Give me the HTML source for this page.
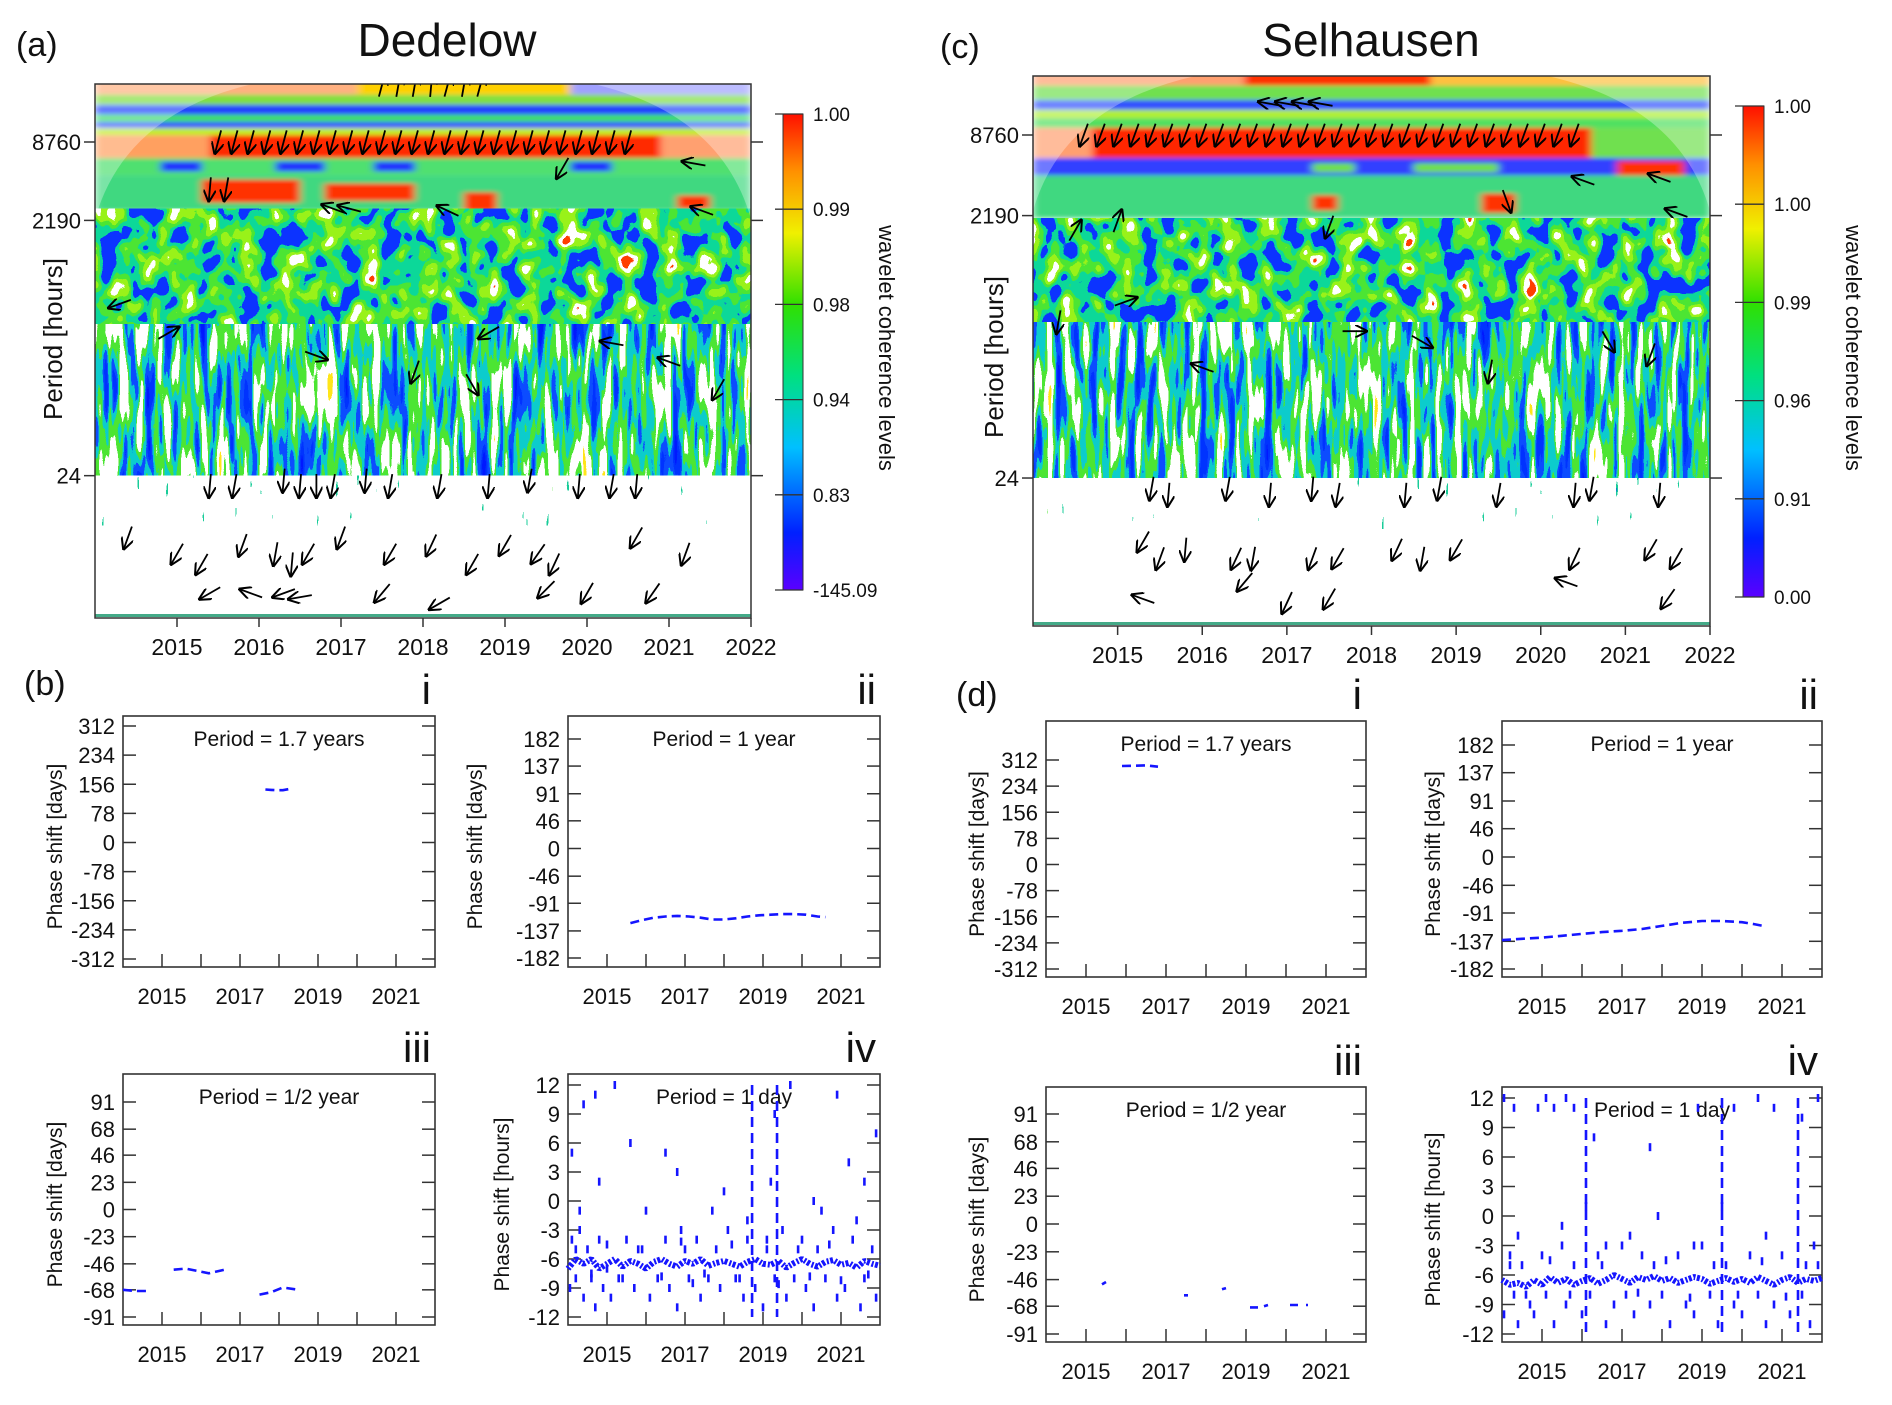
<!DOCTYPE html>
<html><head><meta charset="utf-8"><style>
html,body{margin:0;padding:0;background:#fff}
svg{display:block}
text{font-family:"Liberation Sans",Arial,sans-serif;fill:#111}
</style></head><body>
<svg id="fig" xmlns="http://www.w3.org/2000/svg" width="1892" height="1405" viewBox="0 0 1892 1405">
<defs>
 <filter id="soft" x="-5%" y="-20%" width="110%" height="140%"><feGaussianBlur stdDeviation="4 2"/></filter>
 <filter id="texA" x="0" y="0" width="1" height="1" filterUnits="objectBoundingBox" color-interpolation-filters="sRGB">
  <feTurbulence type="fractalNoise" baseFrequency="0.05 0.04" numOctaves="2" seed="4"/>
  <feColorMatrix type="matrix" values="1 0 0 0 0 1 0 0 0 0 1 0 0 0 0 0 0 0 0 1"/>
  <feComponentTransfer>
   <feFuncR type="discrete" tableValues="0.05 0.05 0.05 0.05 0.05 0.3 0.6 1 1 1"/>
   <feFuncG type="discrete" tableValues="0.2 0.2 0.2 0.2 0.85 0.9 0.95 1 0.25 0.2"/>
   <feFuncB type="discrete" tableValues="1 1 1 1 0.6 0.2 0.1 1 0 0"/>
  </feComponentTransfer>
 </filter>
 <filter id="texB" x="0" y="0" width="1" height="1" filterUnits="objectBoundingBox" color-interpolation-filters="sRGB">
  <feTurbulence type="fractalNoise" baseFrequency="0.11 0.014" numOctaves="2" seed="9"/>
  <feColorMatrix type="matrix" values="1 0 0 0 0 1 0 0 0 0 1 0 0 0 0 0 0 0 0 1"/>
  <feComponentTransfer>
   <feFuncR type="discrete" tableValues="0 0 0 0.05 0.05 0.3 1 1 1 1"/>
   <feFuncG type="discrete" tableValues="0.1 0.1 0.2 0.3 0.8 0.9 1 1 0.9 0.2"/>
   <feFuncB type="discrete" tableValues="1 1 1 1 0.8 0.2 1 1 0.1 0"/>
  </feComponentTransfer>
 </filter>
 <filter id="texC" x="0" y="0" width="1" height="1" filterUnits="objectBoundingBox" color-interpolation-filters="sRGB">
  <feTurbulence type="fractalNoise" baseFrequency="0.2 0.03" numOctaves="2" seed="2"/>
  <feColorMatrix type="matrix" values="1 0 0 0 0 1 0 0 0 0 1 0 0 0 0 0 0 0 0 1"/>
  <feComponentTransfer>
   <feFuncR type="discrete" tableValues="0 0.1 1 1 1 1 1 1 1 0.3"/>
   <feFuncG type="discrete" tableValues="0.2 0.8 1 1 1 1 1 1 1 0.9"/>
   <feFuncB type="discrete" tableValues="1 0.6 1 1 1 1 1 1 1 0.2"/>
  </feComponentTransfer>
 </filter>
 <linearGradient id="cbL" x1="0" y1="1" x2="0" y2="0">
  <stop offset="0" stop-color="#5a00ff"/><stop offset="0.12" stop-color="#0020ff"/>
  <stop offset="0.3" stop-color="#00c0ff"/><stop offset="0.45" stop-color="#00e080"/>
  <stop offset="0.6" stop-color="#30e000"/><stop offset="0.75" stop-color="#f0f000"/>
  <stop offset="0.88" stop-color="#ff9000"/><stop offset="1" stop-color="#ff1000"/>
 </linearGradient>
 <marker id="ah" viewBox="0 0 10 10" refX="9" refY="5" markerWidth="7" markerHeight="7" orient="auto"><path d="M0,0 L10,5 L0,10" fill="none" stroke="#000" stroke-width="1.6"/></marker>
 <clipPath id="clipA"><rect x="95" y="84" width="656" height="534"/></clipPath>
 <clipPath id="clipC"><rect x="1033" y="76" width="677" height="550"/></clipPath>
</defs>

<text x="16" y="56" font-size="34">(a)</text>
<text x="447" y="56" font-size="46" text-anchor="middle">Dedelow</text>
<text x="940" y="58" font-size="34">(c)</text>
<text x="1371" y="56" font-size="46" text-anchor="middle">Selhausen</text>
<text x="24" y="695" font-size="34">(b)</text>
<text x="956" y="706" font-size="34">(d)</text>
<text transform="translate(62,339) rotate(-90)" font-size="26" text-anchor="middle">Period [hours]</text>
<text transform="translate(1003,357) rotate(-90)" font-size="26" text-anchor="middle">Period [hours]</text>
<text transform="translate(879,348) rotate(90)" font-size="22" text-anchor="middle">wavelet coherence levels</text>
<text transform="translate(1846,348) rotate(90)" font-size="22" text-anchor="middle">wavelet coherence levels</text>
</svg>
<script>
const NS='http://www.w3.org/2000/svg';
const svg=document.getElementById('fig');
function mk(tag,attrs,parent){const e=document.createElementNS(NS,tag);for(const k in attrs)e.setAttribute(k,attrs[k]);(parent||svg).appendChild(e);return e;}

/* ---------- data ---------- */
const yearTicks=[2015,2016,2017,2018,2019,2020,2021,2022];
const periodTicks=[8760,2190,24];
const cbLabelsA=['1.00','0.99','0.98','0.94','0.83','-145.09'];
const cbLabelsC=['1.00','1.00','0.99','0.96','0.91','0.00'];
// heatmap bands: [periodHigh, periodLow, yearStart, yearEnd, colour]
const dedBands=[[40000,20200,2014,2017.2,'#ffb080'],[40000,20200,2017.2,2019.8,'#ffd000'],[40000,20200,2019.8,2022,'#a0a0ff'],
 [20200,16900,2014,2022,'#80e040'],[16900,14200,2014,2022,'#2040ff'],[14200,12500,2014,2022,'#40e060'],[12500,11200,2014,2022,'#3050ff'],
 [11200,9900,2014,2022,'#c0f020'],[9900,6600,2014,2015.4,'#ffa060'],[9900,6600,2015.4,2020.9,'#ff2a00'],[9900,6600,2020.9,2022,'#ffa070'],
 [6600,4870,2014,2022,'#50e070'],[6200,5200,2014.8,2015.3,'#2030ff'],[6200,5200,2016.2,2016.8,'#2030ff'],[6200,5200,2017.4,2017.9,'#2030ff'],[6200,5200,2019.8,2020.3,'#2030ff'],
 [4870,2600,2014,2022,'#40d880'],[4500,3000,2015.3,2016.5,'#ff3000'],[4200,3100,2016.8,2017.9,'#ff3000'],[3600,2600,2018.5,2018.9,'#ff3000'],[3400,2700,2021.1,2021.5,'#ff3000']];
const selBands=[[40000,20500,2014,2016.5,'#ffa070'],[40000,20500,2016.5,2018.7,'#ff3000'],[40000,20500,2018.7,2022,'#ffc040'],
 [20500,16000,2014,2022,'#70e050'],[16000,13500,2014,2022,'#3050ff'],[13500,11700,2014,2022,'#b0f030'],[11700,9900,2014,2022,'#50e060'],
 [9900,5900,2014,2014.7,'#ffa070'],[9900,5900,2014.7,2020.6,'#ff2800'],[9900,5900,2020.6,2022,'#70e050'],
 [5900,4380,2014,2022,'#3040ff'],[5600,4200,2020.9,2021.7,'#ff3000'],[5400,4600,2017.3,2017.8,'#70e050'],[5400,4600,2018.5,2019.5,'#70e050'],
 [4380,2100,2014,2022,'#40d880'],[3200,2300,2019.3,2019.7,'#ff3000'],[3100,2400,2017.3,2017.6,'#ff3000']];
// arrows: years, periods, angles (deg, svg clockwise from +x)
const dedArrowYears=[2015.5,2015.7,2015.9,2016.1,2016.3,2016.5,2016.7,2016.9,2017.1,2017.3,2017.5,2017.7,2017.9,2018.1,2018.3,2018.5,2018.7,2018.9,2019.1,2019.3,2019.5,2019.7,2019.9,2020.1,2020.3,2020.5,
 2017.5,2017.7,2017.9,2018.1,2018.3,2018.5,2018.7,
 2015.4,2015.6,2016.9,2017.1,2018.3,2019.7,2021.3,2021.4,
 2014.3,2014.9,2016.7,2017.9,2018.6,2018.8,2020.3,2021.0,2021.6,
 2015.4,2015.7,2016.3,2016.5,2016.7,2016.9,2017.3,2017.6,2018.2,2018.8,2019.3,2019.9,2020.3,2020.6,
 2014.4,2015.0,2015.3,2015.8,2016.2,2016.4,2016.6,2017.0,2017.6,2018.1,2018.6,2019.0,2019.4,2019.6,2020.6,2021.2,
 2015.4,2015.9,2016.3,2016.5,2017.5,2018.2,2019.5,2020.0,2020.8];
const dedArrowPeriods=[8760,8760,8760,8760,8760,8760,8760,8760,8760,8760,8760,8760,8760,8760,8760,8760,8760,8760,8760,8760,8760,8760,8760,8760,8760,8760,
 24000,24000,24000,24000,24000,24000,24000,
 3800,3800,2700,2700,2600,5500,6000,2600,
 500,300,200,150,120,300,250,180,110,
 20,20,22,20,20,20,22,20,20,20,22,20,20,20,
 8,6,5,7,6,5,6,8,6,7,5,7,6,5,8,6,
 3,3,3,2.8,3,2.5,3.2,3,3];
const dedArrowAngles=[105,105,105,105,105,105,105,105,105,105,105,105,105,105,105,105,105,105,105,105,105,105,105,105,105,105,
 -75,-80,-80,-85,-75,-80,-75,
 95,100,200,195,205,120,190,200,
 160,-30,20,110,60,150,190,200,120,
 95,100,95,95,90,100,95,100,100,95,100,95,100,95,
 110,120,120,110,100,95,120,110,120,115,120,120,125,115,120,110,
 150,200,160,170,130,150,135,120,125];
const selArrowYears=[2014.6,2014.8,2015.0,2015.2,2015.4,2015.6,2015.8,2016.0,2016.2,2016.4,2016.6,2016.8,2017.0,2017.2,2017.4,2017.6,2017.8,2018.0,2018.2,2018.4,2018.6,2018.8,2019.0,2019.2,2019.4,2019.6,2019.8,2020.0,2020.2,2020.4,
 2016.8,2017.0,2017.2,2017.4,
 2014.5,2015.0,2017.5,2019.6,2020.5,2021.4,2021.6,
 2014.3,2015.1,2016.0,2017.8,2018.6,2019.4,2020.8,2021.3,
 2015.4,2015.6,2016.3,2016.8,2017.3,2017.6,2018.4,2018.8,2019.5,2020.4,2020.6,2021.4,
 2015.3,2015.5,2015.8,2016.4,2016.6,2017.3,2017.6,2018.3,2018.6,2019.0,2020.4,2021.3,2021.6,
 2015.3,2016.5,2017.0,2017.5,2020.3,2021.5];
const selArrowPeriods=[8760,8760,8760,8760,8760,8760,8760,8760,8760,8760,8760,8760,8760,8760,8760,8760,8760,8760,8760,8760,8760,8760,8760,8760,8760,8760,8760,8760,8760,8760,
 15000,15000,15000,15000,
 1700,2000,1800,2800,4000,4200,2300,
 350,500,160,300,250,150,250,200,
 20,18,20,18,20,18,18,20,18,18,20,18,
 8,6,7,6,6,6,6,7,6,7,6,7,6,
 3,4,2.8,3,4,3];
const selArrowAngles=[110,110,110,110,110,110,110,110,110,110,110,110,110,110,110,110,110,110,110,110,110,110,110,110,110,110,110,110,110,110,
 190,190,190,190,
 -60,-70,110,70,200,200,200,
 100,-20,200,0,30,100,60,110,
 100,95,100,95,95,100,95,100,100,95,100,95,
 120,110,95,115,100,110,120,115,100,120,115,120,120,
 200,130,115,120,200,125];
// phase shift panels
const dedIx=[2017.65,2017.8,2017.95,2018.1,2018.25];
const dedIy=[142,141,140,140,143];
const dedIIx=[2015.6,2015.9,2016.2,2016.5,2016.8,2017.1,2017.4,2017.7,2018.0,2018.3,2018.6,2018.9,2019.2,2019.5,2019.8,2020.1,2020.4,2020.6];
const dedIIy=[-124,-119,-115,-113,-112,-113,-115,-118,-118,-116,-113,-111,-110,-109,-109,-110,-113,-114];
const dedIIIx=[2014.0,2014.3,2014.6,null,2015.3,2015.6,2015.9,2016.2,2016.6,null,2017.5,2017.8,2018.1,2018.5];
const dedIIIy=[-68,-69,-69,null,-51,-50,-52,-54,-51,null,-72,-70,-66,-68];
const selIx=[2015.9,2016.2,2016.5,2016.8];
const selIy=[294,295,296,292];
const selIIx=[2014.0,2014.5,2015.0,2015.5,2016.0,2016.5,2017.0,2017.5,2018.0,2018.5,2019.0,2019.5,2020.0,2020.3,2020.6];
const selIIy=[-135,-133,-131,-128,-125,-122,-120,-117,-112,-107,-104,-104,-106,-109,-113];
const selIIIx=[2015.4,2015.5,null,2017.45,2017.55,null,2018.4,2018.5,null,2019.1,2019.3,null,2019.45,2019.55,null,2020.1,2020.3,null,2020.5,2020.55];
const selIIIy=[-50,-48,null,-59,-59,null,-54,-53,null,-69,-69,null,-68,-67,null,-67,-67,null,-67,-67];
const ivBandX=[2014.0,2014.2,2014.4,2014.6,2014.8,2015.0,2015.2,2015.4,2015.6,2015.8,2016.0,2016.2,2016.4,2016.6,2016.8,2017.0,2017.2,2017.4,2017.6,2017.8,2018.0,2018.2,2018.4,2018.6,2018.8,2019.0,2019.2,2019.4,2019.6,2019.8,2020.0,2020.2,2020.4,2020.6,2020.8,2021.0,2021.2,2021.4,2021.6,2021.8,2022.0];
const dedIVband=[-7,-6,-6.5,-6,-7,-6.5,-6,-6.8,-6.2,-6.5,-7,-6.3,-6,-6.5,-6.8,-6.2,-6.5,-6,-6.7,-6.4,-6.2,-6.5,-6.8,-6.3,-6,-6.5,-6.6,-6.2,-6.9,-6.4,-6,-6.5,-6.8,-6.3,-6.1,-6.6,-6.4,-6.9,-6.2,-6.5,-6.7];
const selIVband=[-6.5,-7,-6.8,-7.2,-6.5,-7,-6.2,-6.8,-6.4,-7,-6.6,-6.3,-6.9,-6.5,-6,-6.4,-6.8,-6.2,-6.5,-6.1,-6.6,-6.3,-6.8,-6.5,-6.2,-6.4,-6.9,-6.6,-6.3,-6.7,-6.4,-6.8,-6.2,-6.6,-7,-6.5,-6.2,-6.8,-6.4,-6.6,-6.3];
const dedIVx=[2014.05,2014.1,2014.2,2014.3,2014.4,2014.5,2014.6,2014.7,2014.8,2014.9,2015.0,2015.1,2015.3,2015.5,2015.7,2015.8,2016.0,2016.1,2016.3,2016.5,2016.6,2016.8,2017.0,2017.1,2017.3,2017.4,2017.6,2017.8,2017.9,2018.1,2018.3,2018.5,2018.6,2018.8,2019.0,2019.1,2019.3,2019.5,2019.6,2019.8,2020.0,2020.1,2020.3,2020.4,2020.6,2020.8,2020.9,2021.1,2021.3,2021.5,2021.6,2021.8,2021.9,
 2014.1,2014.4,2014.7,2015.2,2015.6,2016.5,2016.8,2019.3,2019.7,2020.5,2020.9,2021.2,2021.6,2021.9,2014.3,2014.8,2016.9,2017.7,2018.0,2018.6,2019.2,2020.3,2021.4,
 2014.2,2014.6,2015.0,2015.4,2015.9,2016.4,2016.9,2017.2,2017.5,2018.2,2018.4,2019.1,2019.4,2019.9,2020.2,2020.7,2021.0,2021.7];
const dedIVy=[-9,-4,-8,-3,-10,-5,-8,-11,-4,-9,-7,-10,-8,-4,-9,-5,-1,-10,-8,-4,-9,-11,-5,-8,-4,-10,-8,-5,-9,-3,-8,-10,-4,-9,-11,-5,-8,-3,-10,-8,-4,-9,-11,-5,-8,-3,-10,-9,-4,-11,-8,-5,-10,
 5,10,11,12,6,5,3,9,12,-1,11,4,2,7,-1,2,-3,-1,1,-2,2,0,-2,
 -5,-7.5,-4.5,-8,-5,-7.8,-4.2,-8.5,-7.5,-4.5,-8,-4,-8.6,-5,-7.8,-4.5,-8.2,-7.6];
const dedIVvert=[2018.72,2019.36];
const selIVx=[2014.05,2014.2,2014.3,2014.4,2014.5,2014.7,2014.8,2015.0,2015.1,2015.3,2015.5,2015.6,2015.8,2016.0,2016.2,2016.4,2016.6,2016.8,2017.0,2017.1,2017.3,2017.5,2017.7,2017.8,2018.0,2018.2,2018.4,2018.6,2018.8,2019.0,2019.2,2019.4,2019.6,2019.8,2020.0,2020.2,2020.4,2020.6,2020.8,2021.0,2021.2,2021.5,2021.7,2021.9,
 2014.05,2014.3,2014.9,2015.1,2015.3,2015.6,2015.8,2016.3,2017.7,2018.9,2019.8,2020.4,2020.8,2021.5,2021.9,2014.4,2015.5,2016.1,2016.6,2017.2,2017.9,2018.8,2019.5,2020.6,2021.8,
 2014.2,2014.6,2015.2,2015.7,2016.5,2017.4,2018.1,2018.7,2019.3,2019.9,2020.5,2021.1,2021.6];
const selIVy=[-10,-4,-8,-11,-5,-9,-10,-4,-8,-11,-3,-9,-5,-10,-8,-4,-11,-9,-3,-8,-10,-4,-9,-5,-8,-11,-4,-9,-10,-3,-8,-11,-5,-9,-10,-4,-8,-11,-9,-4,-10,-8,-11,-5,
 12,11,11,12,11,12,11,8,7,11,11,12,11,10,12,-2,-1,1,-3,-2,0,-3,1,-2,-3,
 -5,-8,-4.5,-8,-5,-7.8,-4.5,-8.3,-5,-8,-4.6,-8.2,-5];
const selIVvert=[2016.1,2019.5,2021.4];

/* ---------- wavelet panels ---------- */
function wavelet(c){
 const g=mk('g',{'clip-path':`url(#${c.clip})`});
 
 
 const X=y=>c.x0+(y-2014)/8*(c.x1-c.x0);
 const Y=p=>c.y8760-Math.log2(p/8760)*c.oct;
 const bg=mk('rect',{x:c.x0,y:c.y0,width:c.x1-c.x0,height:c.y1-c.y0,fill:'#fff'},g);
 
 
 const bandG=mk('g',{filter:'url(#soft)'},g);
 
 
 c.bands.forEach(b=>{
  const r=mk('rect',{x:X(b[2]),y:Y(b[0]),width:X(b[3])-X(b[2]),height:Y(b[1])-Y(b[0]),fill:b[4]},bandG);
  
  
 });
 const t1=mk('rect',{x:c.x0,y:Y(c.texTop),width:c.x1-c.x0,height:Y(350)-Y(c.texTop),filter:'url(#texA)'},g);
 
 
 const t2=mk('rect',{x:c.x0,y:Y(350),width:c.x1-c.x0,height:Y(24)-Y(350),filter:'url(#texB)'},g);
 
 
 const t3=mk('rect',{x:c.x0,y:Y(24),width:c.x1-c.x0,height:Y(10)-Y(24),filter:'url(#texC)'},g);
 
 
 const w=c.x1-c.x0;
 const cone=mk('path',{d:`M${c.x0},${c.y0} L${c.x0},${c.y0+135} Q${c.x0+30},${c.y0+30} ${c.x0+w*0.24},${c.y0} Z M${c.x1},${c.y0} L${c.x1},${c.y0+135} Q${c.x1-30},${c.y0+30} ${c.x1-w*0.24},${c.y0} Z`,fill:'#fff',opacity:0.3},g);
 
 
 const bl=mk('rect',{x:c.x0,y:c.y1-4,width:w,height:3,fill:'#4a8'},g);
 
 
 const n=Math.min(c.ay.length,c.ap.length,c.aa.length);
 for(let i=0;i<n;i++){
  const cx=X(c.ay[i]),cy=Y(c.ap[i]),a=c.aa[i]*Math.PI/180,L=12;
  const ar=mk('line',{x1:cx-Math.cos(a)*L,y1:cy-Math.sin(a)*L,x2:cx+Math.cos(a)*L,y2:cy+Math.sin(a)*L,stroke:'#000','stroke-width':1.8,'marker-end':'url(#ah)'},g);
  
  
 }
 const fr=mk('rect',{x:c.x0,y:c.y0,width:w,height:c.y1-c.y0,fill:'none',stroke:'#333','stroke-width':1.5});
 
 
 yearTicks.forEach(yr=>{
  const tk=mk('line',{x1:X(yr),x2:X(yr),y1:c.y1,y2:c.y1+9,stroke:'#333','stroke-width':1.5});
  
  
  const tl=mk('text',{x:X(yr),y:c.y1+37,'font-size':23,'text-anchor':'middle'});
  tl.textContent=yr;
  
  
 });
 periodTicks.forEach(p=>{
  const tk=mk('line',{x1:c.x0-11,x2:c.x0,y1:Y(p),y2:Y(p),stroke:'#333','stroke-width':1.5});
  
  
  const tk2=mk('line',{x1:c.x1,x2:c.x1+12,y1:Y(p),y2:Y(p),stroke:'#333','stroke-width':1.5});
  
  
  const tl=mk('text',{x:c.x0-14,y:Y(p)+8,'font-size':22,'text-anchor':'end'});
  tl.textContent=p;
  
  
 });
 const cb=mk('rect',{x:c.cbx,y:c.cby0,width:c.cbw,height:c.cby1-c.cby0,fill:'url(#cbL)',stroke:'#333','stroke-width':1});
 
 
 c.cbl.forEach((lab,i)=>{
  const yy=c.cby0+i*(c.cby1-c.cby0)/(c.cbl.length-1);
  const tk=mk('line',{x1:c.cbx-8,x2:c.cbx+c.cbw,y1:yy,y2:yy,stroke:'#333','stroke-width':1.3});
  
  
  const tl=mk('text',{x:c.cbx+c.cbw+10,y:yy+7,'font-size':19});
  tl.textContent=lab;
  
  
 });
}
wavelet({name:'dedelow-wavelet',clip:'clipA',x0:95,x1:751,y0:84,y1:618,y8760:142,oct:39.2,bands:dedBands,texTop:2700,
 ay:dedArrowYears,ap:dedArrowPeriods,aa:dedArrowAngles,cbx:783,cbw:20,cby0:114,cby1:590,cbl:cbLabelsA});
wavelet({name:'selhausen-wavelet',clip:'clipC',x0:1033,x1:1710,y0:76,y1:626,y8760:135,oct:40.3,bands:selBands,texTop:2100,
 ay:selArrowYears,ap:selArrowPeriods,aa:selArrowAngles,cbx:1743,cbw:21,cby0:106,cby1:597,cbl:cbLabelsC});

/* ---------- phase shift panels ---------- */
function phase(c){
 const X=y=>c.x0+(y-2014)/8*(c.x1-c.x0);
 const Y=v=>c.yTop+(c.ticks[0]-v)/(c.ticks[0]-c.ticks[c.ticks.length-1])*(c.yBot-c.yTop);
 const fr=mk('rect',{x:c.x0,y:c.y0,width:c.x1-c.x0,height:c.y1-c.y0,fill:'#fff',stroke:'#333','stroke-width':1.6});
 
 
 c.ticks.forEach(v=>{
  const t1=mk('line',{x1:c.x0,x2:c.x0+13,y1:Y(v),y2:Y(v),stroke:'#333','stroke-width':1.5});
  
  
  const t2=mk('line',{x1:c.x1-13,x2:c.x1,y1:Y(v),y2:Y(v),stroke:'#333','stroke-width':1.5});
  
  
  const tl=mk('text',{x:c.x0-8,y:Y(v)+8,'font-size':22,'text-anchor':'end'});
  tl.textContent=v;
  
  
 });
 [2015,2016,2017,2018,2019,2020,2021].forEach(yr=>{
  const t=mk('line',{x1:X(yr),x2:X(yr),y1:c.y1,y2:c.y1-13,stroke:'#333','stroke-width':1.5});
  
  
 });
 [2015,2017,2019,2021].forEach(yr=>{
  const tl=mk('text',{x:X(yr),y:c.y1+37,'font-size':22,'text-anchor':'middle'});
  tl.textContent=yr;
  
  
 });
 const tt=mk('text',{x:(c.x0+c.x1)/2,y:c.y0+30,'font-size':21,'text-anchor':'middle'});
 tt.textContent=c.title;
 
 
 const yl=mk('text',{transform:`translate(${c.ylx},${(c.y0+c.y1)/2+5}) rotate(-90)`,'font-size':21,'text-anchor':'middle'});
 yl.textContent=c.ylab;
 
 
 const rn=mk('text',{x:c.x1-4,y:c.y0-12,'font-size':42,'text-anchor':'end'});
 rn.textContent=c.roman;
 
 
 if(c.sx){
  let d='';let pen=false;
  for(let i=0;i<c.sx.length;i++){
   if(c.sx[i]===null){pen=false;continue;}
   d+=(pen?'L':'M')+X(c.sx[i]).toFixed(1)+','+Y(c.sy[i]).toFixed(1);pen=true;
  }
  const ln=mk('path',{d:d,fill:'none',stroke:'#1515ff','stroke-width':2.6,'stroke-dasharray':'9 5'});
  
  
 }
 if(c.band){
  const pts=c.bandX.map((x,i)=>X(x).toFixed(1)+','+Y(c.band[i]).toFixed(1)).join(' ');
  const bd=mk('polyline',{points:pts,fill:'none',stroke:'#1515ff','stroke-width':6,'stroke-dasharray':'2 1.5 3 2','stroke-linejoin':'bevel'});
  
  
  const n=Math.min(c.px.length,c.py.length);
  for(let i=0;i<n;i++){
   const r=mk('rect',{x:X(c.px[i])-1.3,y:Y(c.py[i])-4,width:2.6,height:8,fill:'#1515ff'});
   
   
  }
  c.vert.forEach(v=>{
   const vl=mk('line',{x1:X(v),x2:X(v),y1:Y(12),y2:Y(-12),stroke:'#1515ff','stroke-width':2.6,'stroke-dasharray':'10 6'});
   
   
  });
 }
}
const tk312=[312,234,156,78,0,-78,-156,-234,-312];
const tk182=[182,137,91,46,0,-46,-91,-137,-182];
const tk91=[91,68,46,23,0,-23,-46,-68,-91];
const tk12=[12,9,6,3,0,-3,-6,-9,-12];
phase({name:'dedelow-i',x0:123,x1:435,y0:716,y1:967,yTop:726,yBot:959,ticks:tk312,title:'Period = 1.7 years',ylab:'Phase shift [days]',ylx:62,roman:'i',sx:dedIx,sy:dedIy});
phase({name:'dedelow-ii',x0:568,x1:880,y0:716,y1:967,yTop:739,yBot:958,ticks:tk182,title:'Period = 1 year',ylab:'Phase shift [days]',ylx:482,roman:'ii',sx:dedIIx,sy:dedIIy});
phase({name:'dedelow-iii',x0:123,x1:435,y0:1074,y1:1325,yTop:1102,yBot:1317,ticks:tk91,title:'Period = 1/2 year',ylab:'Phase shift [days]',ylx:62,roman:'iii',sx:dedIIIx,sy:dedIIIy});
phase({name:'dedelow-iv',x0:568,x1:880,y0:1074,y1:1325,yTop:1085,yBot:1317,ticks:tk12,title:'Period = 1 day',ylab:'Phase shift [hours]',ylx:509,roman:'iv',bandX:ivBandX,band:dedIVband,px:dedIVx,py:dedIVy,vert:dedIVvert});
phase({name:'selhausen-i',x0:1046,x1:1366,y0:721,y1:977,yTop:760,yBot:969,ticks:tk312,title:'Period = 1.7 years',ylab:'Phase shift [days]',ylx:984,roman:'i',sx:selIx,sy:selIy});
phase({name:'selhausen-ii',x0:1502,x1:1822,y0:721,y1:977,yTop:745,yBot:969,ticks:tk182,title:'Period = 1 year',ylab:'Phase shift [days]',ylx:1440,roman:'ii',sx:selIIx,sy:selIIy});
phase({name:'selhausen-iii',x0:1046,x1:1366,y0:1087,y1:1342,yTop:1114,yBot:1334,ticks:tk91,title:'Period = 1/2 year',ylab:'Phase shift [days]',ylx:984,roman:'iii',sx:selIIIx,sy:selIIIy});
phase({name:'selhausen-iv',x0:1502,x1:1822,y0:1087,y1:1342,yTop:1098,yBot:1334,ticks:tk12,title:'Period = 1 day',ylab:'Phase shift [hours]',ylx:1440,roman:'iv',bandX:ivBandX,band:selIVband,px:selIVx,py:selIVy,vert:selIVvert});
</script>
</body></html>
